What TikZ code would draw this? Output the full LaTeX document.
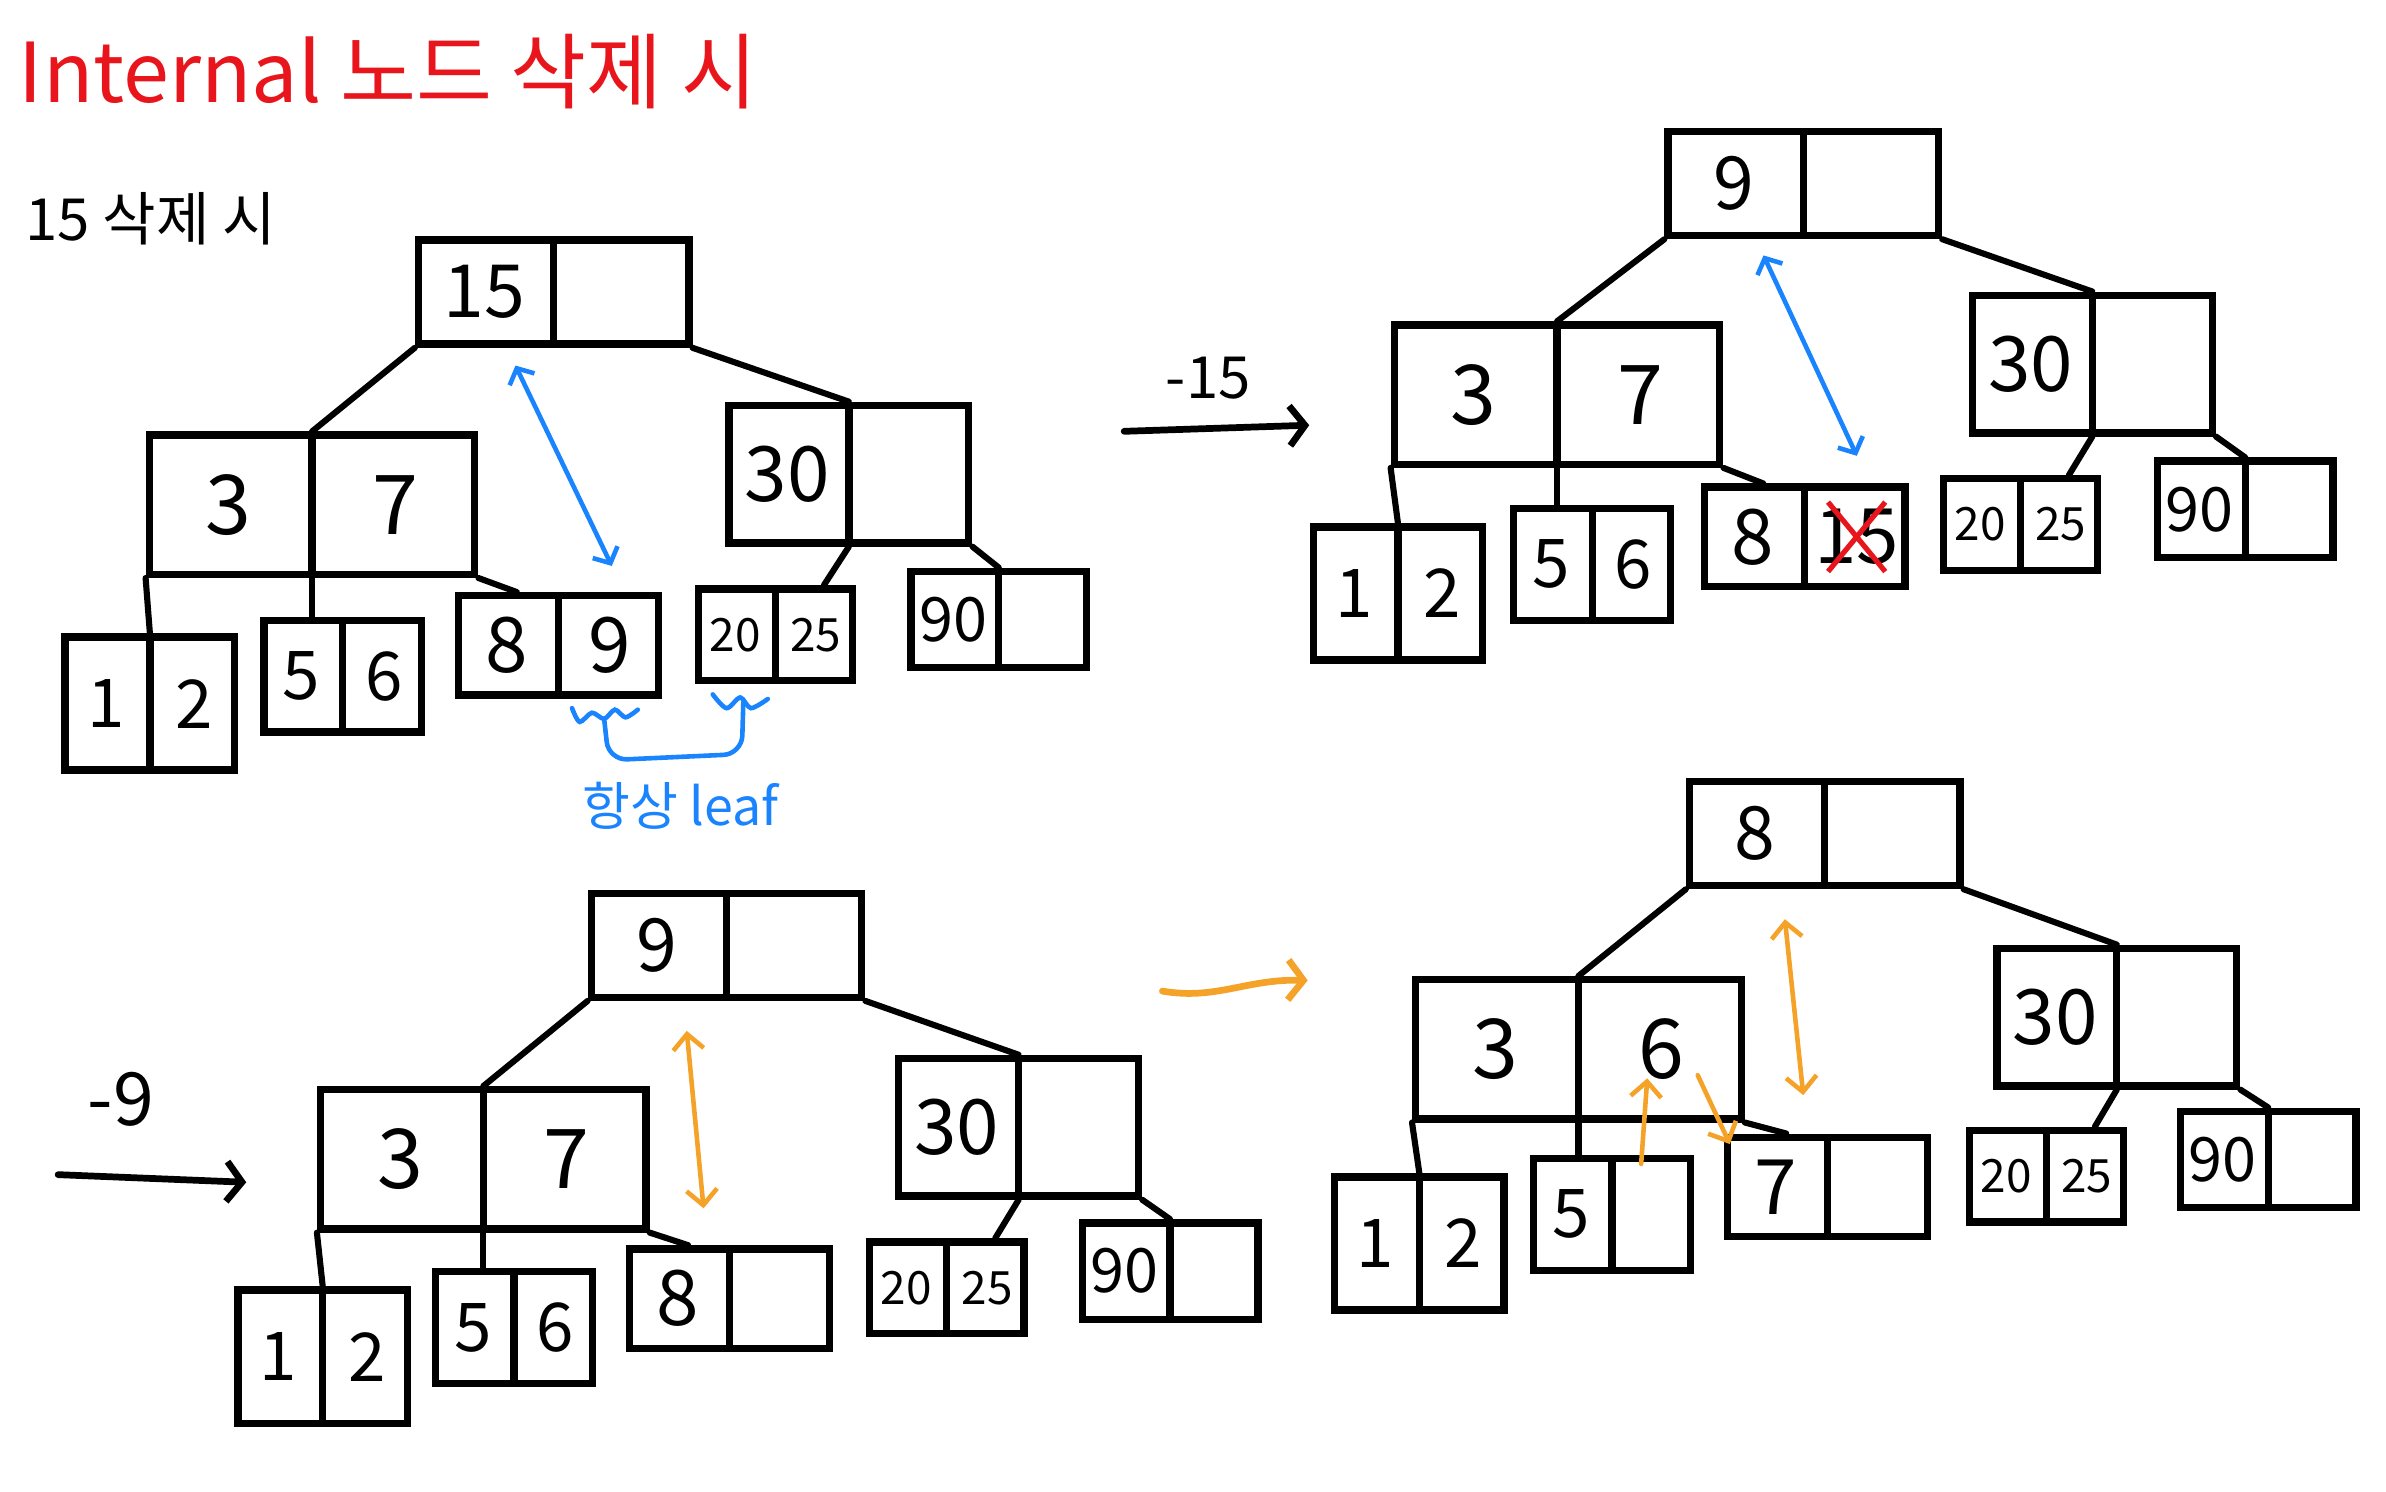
\documentclass[tikz,border=0pt]{standalone}
\usepackage{fontspec}
\setmainfont{Noto Sans CJK KR}
\usepackage{xcolor}
\usepackage{tikz}
\usetikzlibrary{shapes,arrows.meta,positioning,calc}

\definecolor{penred}{RGB}{232,22,28}
\definecolor{penblue}{RGB}{26,132,255}
\definecolor{penorange}{RGB}{245,162,40}

\begin{document}
\begin{tikzpicture}[x=0.5pt,y=-0.5pt,
  every node/.style={inner sep=0pt},
  bnode/.style n args={3}{rectangle split, rectangle split horizontal,
    rectangle split parts=2, draw, line width=2.4pt, text width=#1,
    minimum height=#2, align=center, font=\fontsize{#3}{#3}\selectfont},
  topbox/.style={bnode={43pt}{34pt}{24}},
  leftbox/.style={bnode={52pt}{45.5pt}{27}},
  rightbox/.style={bnode={38pt}{45pt}{25}},
  leafa/.style={bnode={26.5pt}{43.5pt}{22}},
  leafb/.style={bnode={24.5pt}{36.5pt}{22}},
  leafc/.style={bnode={31.5pt}{32.5pt}{25}},
  leafd/.style={bnode={24pt}{30pt}{15}},
  leafe/.style={bnode={27.5pt}{31.5pt}{20}},
  link/.style={line width=2pt, line cap=round},
  movearrow/.style={line width=2.2pt, line cap=round, -{Straight Barb[length=5pt,width=13pt]}},
  bluepen/.style={draw=penblue, line width=1.5pt, line cap=round},
  bluearrow/.style={bluepen, {Straight Barb[length=4pt,width=9pt]}-{Straight Barb[length=4pt,width=9pt]}},
  orangepen/.style={draw=penorange, line width=1.5pt, line cap=round},
  orangearrow/.style={orangepen, -{Straight Barb[length=5pt,width=10pt]}},
  orangeboth/.style={orangepen, {Straight Barb[length=5pt,width=10pt]}-{Straight Barb[length=5pt,width=10pt]}}
]
\useasboundingbox (0,0) rectangle (1560,975);
% Titles
\node[anchor=west, text=penred, font=\fontsize{27}{27}\selectfont] (title) at (12,47) {Internal 노드 삭제 시};
\node[anchor=west, font=\fontsize{19}{19}\selectfont] (case) at (16,143) {15 삭제 시};
% Tree before deleting 15
\node[topbox] (t1root) at (362,191) {15\nodepart{two}};
\node[leftbox] (t1l) at (204,330) {3\nodepart{two}7};
\node[rightbox] (t1r) at (555,310) {30\nodepart{two}};
\node[leafa] (t1a) at (98,460) {1\nodepart{two}2};
\node[leafb] (t1b) at (224,442) {5\nodepart{two}6};
\node[leafc] (t1c) at (365,422) {8\nodepart{two}9};
\node[leafd] (t1d) at (507,415) {20\nodepart{two}25};
\node[leafe] (t1e) at (653,405) {90\nodepart{two}};
% Tree after -15
\node[topbox] (t2root) at (1179,120) {9\nodepart{two}};
\node[leftbox] (t2l) at (1018,258) {3\nodepart{two}7};
\node[rightbox] (t2r) at (1368,238) {30\nodepart{two}};
\node[leafa] (t2a) at (914,388) {1\nodepart{two}2};
\node[leafb] (t2b) at (1041,369) {5\nodepart{two}6};
\node[leafc] (t2c) at (1180,351) {8\nodepart{two}15};
\node[leafd] (t2d) at (1321,343) {20\nodepart{two}25};
\node[leafe] (t2e) at (1468,333) {90\nodepart{two}};
\node[cross out, draw=penred, line width=1.7pt, minimum width=17pt, minimum height=21pt]
  (t2x) at ($(t2c.north east)!0.5!(t2c.south)$) {};
% Tree before deleting 9
\node[topbox] (t3root) at (475,618) {9\nodepart{two}};
\node[leftbox] (t3l) at (316,758) {3\nodepart{two}7};
\node[rightbox] (t3r) at (666,737) {30\nodepart{two}};
\node[leafa] (t3a) at (211,887) {1\nodepart{two}2};
\node[leafb] (t3b) at (336,868) {5\nodepart{two}6};
\node[leafc] (t3c) at (477,849) {8\nodepart{two}};
\node[leafd] (t3d) at (619,842) {20\nodepart{two}25};
\node[leafe] (t3e) at (765,831) {90\nodepart{two}};
% Tree after -9
\node[topbox] (t4root) at (1193,545) {8\nodepart{two}};
\node[leftbox] (t4l) at (1032,686) {3\nodepart{two}6};
\node[rightbox] (t4r) at (1384,665) {30\nodepart{two}};
\node[leafa] (t4a) at (928,813) {1\nodepart{two}2};
\node[leafb] (t4b) at (1054,794) {5\nodepart{two}};
\node[leafc] (t4c) at (1195,776) {7\nodepart{two}};
\node[leafd] (t4d) at (1338,769) {20\nodepart{two}25};
\node[leafe] (t4e) at (1483,758) {90\nodepart{two}};
% Tree links
\foreach \tr in {t1,t2,t3,t4}{
  \draw[link] (\tr root.south west) -- (\tr l.north);
  \draw[link] (\tr root.south east) -- (\tr r.north);
  \draw[link] (\tr l.south west) -- (\tr a.north);
  \draw[link] (\tr l.south) -- (\tr l.south |- \tr b.north);
  \draw[link] (\tr l.south east) -- ($(\tr c.north west)!0.3!(\tr c.north east)$);
  \draw[link] (\tr r.south) -- ($(\tr d.north west)!0.8!(\tr d.north east)$);
  \draw[link] (\tr r.south east) -- (\tr e.north);
}
% Steps
\coordinate (s1) at (735,282);
\coordinate (e1) at (856,278);
\draw[movearrow] (s1) -- (e1);
\node[font=\fontsize{19}{19}\selectfont] (m15) at (790,247) {-15};
\coordinate (s2) at (38,768);
\coordinate (e2) at (161,773);
\draw[movearrow] (s2) -- (e2);
\node[font=\fontsize{24}{24}\selectfont] (m9) at (79,719) {-9};
\coordinate (s3) at (760,648);
\coordinate (e3) at (855,641);
\draw[orangepen, line width=2.2pt, -{Straight Barb[length=5pt,width=13pt]}] (s3) .. controls (795,654) and (815,640) .. (e3);
% Blue notes
\coordinate (t1up) at (337,239);
\coordinate (t1dn) at (400,370);
\draw[bluearrow] (t1up) -- (t1dn);
\draw[bluepen] plot[smooth] coordinates {(374,463) (379,472) (387,466) (395,470) (402,464) (409,469) (417,464)};
\draw[bluepen] plot[smooth] coordinates {(466,454) (475,463) (484,456) (491,463) (502,457)};
\draw[bluepen, rounded corners=6pt] (395,470) -- (398,497) -- (485,493) -- (486,459);
\node[text=penblue, font=\fontsize{17}{17}\selectfont] (always) at (445,527) {항상 leaf};
\coordinate (t2up) at (1153,167);
\coordinate (t2dn) at (1214,298);
\draw[bluearrow] (t2up) -- (t2dn);
% Orange notes
\coordinate (t3up) at (449,674);
\coordinate (t3dn) at (460,790);
\draw[orangeboth] (t3up) -- (t3dn);
\coordinate (t4up) at (1167,601);
\coordinate (t4dn) at (1179,716);
\draw[orangeboth] (t4up) -- (t4dn);
\coordinate (t4p) at (1073,761);
\coordinate (t4q) at (1077,705);
\draw[orangearrow] (t4p) -- (t4q);
\coordinate (t4u) at (1110,703);
\coordinate (t4v) at (1131,748);
\draw[orangearrow] (t4u) -- (t4v);
\end{tikzpicture}
\end{document}
